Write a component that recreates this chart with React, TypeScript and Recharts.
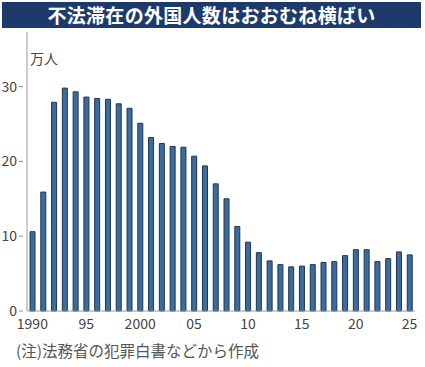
import React from "react";
import { BarChart, Bar, XAxis, YAxis } from "recharts";

const years = [
  1990, 1991, 1992, 1993, 1994, 1995, 1996, 1997, 1998, 1999,
  2000, 2001, 2002, 2003, 2004, 2005, 2006, 2007, 2008, 2009,
  2010, 2011, 2012, 2013, 2014, 2015, 2016, 2017, 2018, 2019,
  2020, 2021, 2022, 2023, 2024, 2025,
];
const overstayers = [
  10.6, 15.9, 27.9, 29.8, 29.3, 28.6, 28.4, 28.3, 27.7, 27.1,
  25.1, 23.2, 22.4, 22.0, 21.9, 20.7, 19.4, 17.0, 15.0, 11.3,
  9.2, 7.8, 6.7, 6.2, 5.9, 6.0, 6.2, 6.5, 6.6, 7.4,
  8.2, 8.2, 6.6, 7.0, 7.9, 7.5,
];
const xTickYears = [1990, 1995, 2000, 2005, 2010, 2015, 2020, 2025];
const xTickLabels = ["1990", "95", "2000", "05", "10", "15", "20", "25"];
const yTicks = [0, 10, 20, 30];

const title = "不法滞在の外国人数はおおむね横ばい";
const unitLabel = "万人";
const note = "(注)法務省の犯罪白書などから作成";

const data = years.map((y, i) => ({ year: y, value: overstayers[i] }));

const FONT = "'Noto Sans CJK JP', 'Noto Sans', sans-serif";

const YTick = (props: any) => {
  const { x, y, payload } = props;
  return (
    <g>
      <line x1={x} x2={x + 4} y1={y} y2={y} stroke="#888" strokeWidth={1} />
      <text
        x={x - 2}
        y={y}
        dy="0.36em"
        textAnchor="end"
        fill="#444"
        fontSize={14}
        fontFamily={FONT}
      >
        {payload.value}
      </text>
    </g>
  );
};

export default function App() {
  return (
    <div
      style={{
        position: "absolute",
        left: 0,
        top: 0,
        width: 425,
        height: 367,
        background: "#fff",
        fontFamily: FONT,
        overflow: "hidden",
      }}
    >
      <div
        style={{
          position: "absolute",
          left: 2,
          top: 2,
          width: 419,
          height: 26,
          background: "#1e3a6b",
          color: "#fff",
          fontSize: 19,
          fontWeight: 700,
          lineHeight: "26px",
          textAlign: "center",
          letterSpacing: 0.3,
        }}
      >
        {title}
      </div>
      <div
        style={{
          position: "absolute",
          left: 30,
          top: 49,
          fontSize: 14,
          color: "#444",
          lineHeight: "18px",
        }}
      >
        {unitLabel}
      </div>
      <div
        style={{
          position: "absolute",
          left: 16,
          top: 340,
          fontSize: 15.5,
          color: "#555",
          lineHeight: "20px",
          whiteSpace: "nowrap",
        }}
      >
        {note}
      </div>
      <div style={{ position: "absolute", left: 0, top: 0 }}>
        <BarChart
          width={425}
          height={367}
          data={data}
          margin={{ top: 32, right: 10, bottom: 36, left: 0 }}
          barCategoryGap="28%"
        >
          <XAxis
            dataKey="year"
            ticks={xTickYears}
            interval={0}
            tickFormatter={(v: number) => xTickLabels[xTickYears.indexOf(v)] ?? ""}
            tickLine={false}
            axisLine={{ stroke: "#999" }}
            tick={{ fill: "#444", fontSize: 14, fontFamily: FONT }}
            tickMargin={2}
            height={20}
          />
          <YAxis
            domain={[0, 37.3]}
            ticks={yTicks}
            width={27}
            tickLine={false}
            axisLine={{ stroke: "#999" }}
            tick={<YTick />}
            interval={0}
          />
          <Bar
            dataKey="value"
            fill="#3a6d9f"
            stroke="#22344f"
            strokeWidth={1}
            isAnimationActive={false}
          />
        </BarChart>
      </div>
    </div>
  );
}
